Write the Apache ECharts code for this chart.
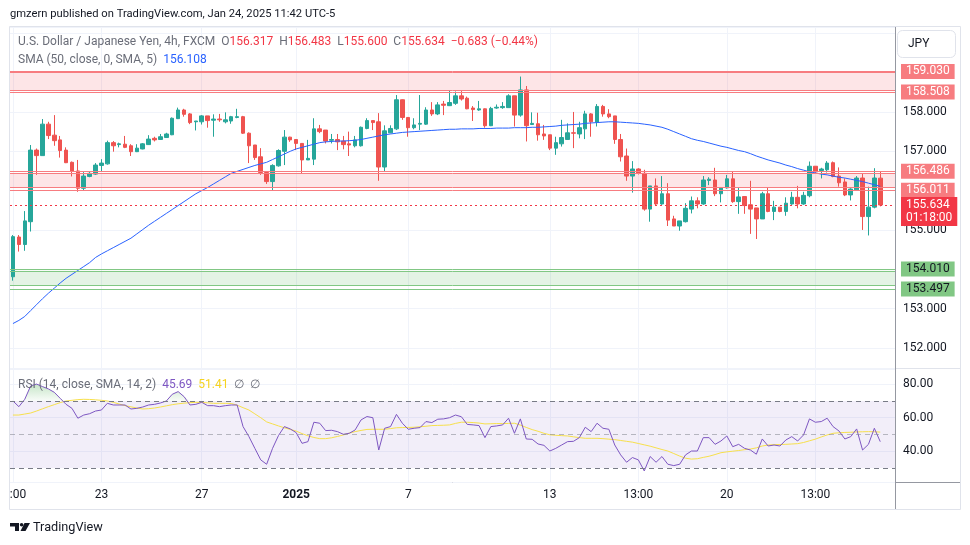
<!DOCTYPE html>
<html>
<head>
<meta charset="utf-8">
<script src="https://cdn.jsdelivr.net/npm/echarts/dist/echarts.min.js"></script>
<style>html,body{margin:0;padding:0;background:#fff;}#c{width:970px;height:545px;}</style>
</head>
<body>
<div id="c"></div>
<script>
// ---------------- data ----------------
const open = [153.81,154.82,154.63,155.21,157.03,156.89,157.69,157.41,157.29,157.03,
156.72,156.50,156.06,156.36,156.42,156.64,156.68,157.22,157.17,157.18,
157.14,156.99,157.06,157.17,157.33,157.30,157.35,157.42,157.83,158.05,
157.95,157.75,157.75,157.90,157.79,157.82,157.75,157.77,157.86,157.88,
157.46,157.16,156.86,156.46,156.23,156.63,157.00,157.36,157.30,157.20,
156.78,156.80,157.57,157.54,157.28,157.30,157.26,157.19,157.14,157.14,
157.58,157.78,157.75,156.60,157.47,157.57,158.31,157.86,157.60,157.69,
157.69,158.05,157.95,158.20,158.16,158.22,158.41,158.35,158.10,158.05,
158.08,157.65,158.10,158.11,158.11,158.41,157.92,158.56,157.68,157.70,
157.44,157.42,157.08,157.19,157.30,157.47,157.44,157.57,157.95,157.74,
158.14,157.95,157.90,157.30,156.88,156.37,156.55,156.44,155.53,156.12,
155.66,155.92,155.28,155.10,155.21,155.53,155.74,155.66,156.26,156.27,
155.92,156.07,156.30,155.72,155.85,155.64,155.56,155.28,155.92,155.47,
155.58,155.47,155.66,155.83,155.66,155.87,156.62,156.51,156.53,156.71,
156.37,156.22,155.89,156.02,156.32,155.34,155.58,156.317];
const high = [154.87,154.87,155.48,157.16,157.07,157.82,157.75,157.92,157.39,157.10,
156.74,156.78,156.47,156.48,156.70,156.80,157.27,157.26,157.22,157.39,
157.18,157.18,157.21,157.41,157.37,157.44,157.47,157.86,158.11,158.08,
157.97,157.77,157.92,157.90,157.94,157.95,157.99,157.90,158.08,157.90,
157.48,157.16,157.08,156.46,156.67,157.05,157.54,157.37,157.30,157.20,
157.29,157.84,157.67,157.54,157.44,157.44,157.39,157.50,157.39,157.63,
157.84,157.78,157.97,157.66,157.66,158.43,158.32,157.86,157.84,158.43,
158.12,158.25,158.25,158.28,158.54,158.52,158.53,158.39,158.15,158.28,
158.09,158.13,158.19,158.25,158.45,158.41,158.90,158.66,157.99,157.98,
157.67,157.42,157.37,157.80,157.71,158.00,157.75,158.03,157.97,158.20,
158.18,158.07,157.90,157.44,157.07,156.75,156.57,156.53,156.12,156.31,
156.37,156.19,155.36,155.23,155.68,155.85,155.83,156.37,156.34,156.58,
156.08,156.40,156.48,156.08,155.85,156.25,155.56,155.97,156.08,155.74,
155.58,155.83,155.97,156.12,155.97,156.74,156.62,156.58,156.75,156.74,
156.59,156.31,156.06,156.37,156.44,156.10,156.57,156.483];
const low = [153.71,154.45,154.47,154.96,156.40,156.89,157.31,157.14,156.84,156.70,
156.36,155.97,156.00,156.34,156.40,156.48,156.66,156.99,157.10,157.08,
156.88,156.98,157.05,157.16,157.25,157.29,157.34,157.41,157.82,157.88,
157.69,157.53,157.68,157.60,157.37,157.75,157.71,157.70,157.84,157.44,
156.70,156.78,156.40,156.17,156.00,156.61,156.65,157.24,157.03,156.44,
156.78,156.65,157.46,157.20,157.20,157.03,157.05,156.88,157.10,157.12,
157.56,157.54,156.25,156.48,157.46,157.54,157.80,157.37,157.56,157.54,
157.67,157.90,157.92,157.92,158.15,158.18,158.29,158.07,157.77,158.03,
157.60,157.64,158.08,158.08,158.11,157.63,157.88,157.25,157.67,157.27,
157.29,157.03,156.91,157.12,157.29,157.08,157.33,157.31,157.37,157.63,
157.88,157.84,157.19,156.74,156.25,155.95,156.41,155.49,155.21,155.61,
155.64,155.10,155.10,154.98,155.19,155.42,155.55,155.64,156.14,155.86,
155.70,156.05,155.69,155.41,155.41,154.90,154.77,155.28,155.45,155.25,
155.45,155.36,155.64,155.55,155.64,155.83,156.44,156.31,156.46,156.34,
156.10,155.86,155.75,156.02,155.00,154.86,155.55,155.600];
const close = [154.83,154.63,155.23,157.03,156.89,157.69,157.40,157.27,157.02,156.71,
156.50,156.06,156.37,156.44,156.65,156.70,157.22,157.14,157.19,157.10,
156.99,157.08,157.19,157.31,157.29,157.37,157.44,157.84,158.05,157.94,
157.73,157.77,157.90,157.78,157.82,157.80,157.80,157.88,157.88,157.46,
157.14,156.84,156.46,156.23,156.64,157.02,157.36,157.29,157.20,156.78,
156.82,157.57,157.50,157.26,157.30,157.24,157.17,157.16,157.29,157.61,
157.78,157.73,156.60,157.52,157.58,158.31,157.86,157.60,157.67,157.71,
158.05,157.95,158.18,158.17,158.24,158.41,158.33,158.08,158.06,158.08,
157.65,158.09,158.12,158.14,158.41,157.92,158.56,157.65,157.71,157.42,
157.39,157.08,157.22,157.35,157.47,157.46,157.60,157.95,157.75,158.14,
157.95,157.88,157.30,156.86,156.37,156.55,156.44,155.53,156.12,155.66,
155.92,155.25,155.10,155.23,155.55,155.74,155.66,156.27,156.29,155.92,
156.08,156.30,155.72,155.84,155.62,155.53,155.28,155.92,155.47,155.58,
155.47,155.68,155.83,155.66,155.88,156.62,156.48,156.55,156.70,156.36,
156.20,155.89,156.04,156.32,155.34,155.58,156.32,155.634];
const sma50 = [152.62,152.70,152.80,152.95,153.10,153.25,153.39,153.52,153.65,153.77,
153.87,153.97,154.07,154.17,154.30,154.39,154.47,154.55,154.63,154.71,
154.79,154.90,155.01,155.12,155.22,155.32,155.42,155.52,155.62,155.72,
155.82,155.92,156.00,156.08,156.17,156.26,156.35,156.44,156.49,156.54,
156.59,156.64,156.68,156.72,156.79,156.86,156.93,157.00,157.06,157.10,
157.14,157.18,157.22,157.24,157.25,157.26,157.26,157.27,157.28,157.30,
157.33,157.36,157.39,157.42,157.44,157.46,157.48,157.49,157.50,157.51,
157.52,157.53,157.54,157.55,157.56,157.56,157.57,157.57,157.57,157.58,
157.58,157.58,157.59,157.59,157.59,157.60,157.60,157.60,157.61,157.61,
157.62,157.63,157.64,157.66,157.67,157.68,157.69,157.71,157.72,157.73,
157.74,157.75,157.75,157.74,157.73,157.72,157.71,157.69,157.67,157.64,
157.61,157.56,157.50,157.44,157.38,157.32,157.28,157.25,157.21,157.17,
157.13,157.10,157.06,157.02,156.99,156.94,156.88,156.83,156.78,156.74,
156.70,156.65,156.61,156.56,156.52,156.48,156.45,156.42,156.40,156.37,
156.34,156.32,156.29,156.26,156.23,156.19,156.15,156.108];
const rsi = [70.0,66.6,71.0,79.0,80.1,78.6,77.2,75.2,71.6,68.0,
65.6,59.7,61.6,62.4,64.0,64.6,68.6,67.6,67.6,67.6,
65.2,65.6,66.4,67.6,68.0,68.8,70.0,74.0,75.6,72.6,
67.6,68.0,69.2,67.2,67.2,66.6,67.2,67.6,67.6,54.7,
48.7,41.7,34.8,32.2,41.7,49.3,54.7,53.3,51.1,44.7,
45.7,57.3,56.7,52.3,52.5,51.7,50.1,50.7,52.7,58.7,
60.7,60.0,40.7,53.7,54.7,62.0,56.7,53.1,53.7,54.1,
57.7,57.1,59.1,59.3,60.0,61.6,60.6,56.0,55.7,55.3,
48.1,54.7,55.1,55.7,59.7,50.7,59.3,47.3,47.1,44.3,
43.5,40.1,41.7,43.7,45.7,45.9,48.1,54.3,51.7,56.7,
53.7,53.1,43.7,37.8,33.4,36.2,34.8,28.2,36.8,33.4,
36.8,32.2,31.4,32.2,37.8,40.1,40.1,48.1,48.1,44.1,
46.1,49.1,42.7,44.1,41.7,40.7,38.2,47.3,43.1,43.7,
43.1,46.7,48.7,46.1,49.7,59.3,57.3,57.7,59.7,54.7,
52.1,47.3,48.7,53.3,40.7,44.1,53.7,45.69];
const rsiMa = [61.6,61.6,62.2,62.8,64.0,65.3,66.6,67.8,69.0,70.0,
70.4,70.8,71.0,70.9,70.7,70.4,70.0,69.2,68.2,67.2,
66.5,65.8,65.2,65.4,65.8,66.4,67.1,67.8,68.3,68.7,
69.0,69.2,69.1,68.9,68.6,68.6,68.6,68.5,67.5,66.0,
64.6,62.3,60.0,57.5,56.3,55.1,54.0,53.0,52.0,50.5,
49.2,48.2,47.5,47.5,48.0,48.8,49.7,50.8,51.7,52.4,
53.0,53.1,53.1,53.1,53.5,54.0,54.1,54.2,54.3,54.6,
54.9,55.3,55.4,55.5,55.7,56.6,57.3,57.3,57.1,56.8,
56.3,56.4,56.5,56.5,56.6,56.7,55.6,54.2,52.9,51.9,
50.7,49.8,49.5,49.3,49.1,48.6,48.1,47.7,47.7,47.7,
47.5,47.2,46.9,46.4,45.9,45.4,44.6,43.8,43.0,42.0,
41.0,40.1,38.6,37.1,35.8,35.3,35.5,36.3,37.0,38.0,
39.1,39.6,40.0,40.4,40.9,41.3,42.0,43.1,43.7,43.9,
44.0,44.1,44.3,44.5,45.2,46.2,47.2,48.5,49.7,50.7,
51.0,51.2,51.3,51.5,51.6,51.7,51.6,51.41];

const slotCount = 150;                       // 148 bars + right margin
const tickIdx  = [0, 15, 32, 48, 67, 91, 106, 121, 136];
const tickText = [':00', '23', '27', '2025', '7', '13', '13:00', '20', '13:00'];
const priceRange = [151.49, 160.16];
const priceLabelMax = 159.5;                 // labels above are hidden behind the currency button
const rsiRange = [21.6, 89.1];
const rsiLevels = [70, 50, 30];
const zoneHi    = [159.030, 156.486, 154.010];
const zoneLo    = [158.508, 156.011, 153.497];
const zoneInHi  = [159.015, 156.440, 153.960];
const zoneInLo  = [158.550, 156.090, 153.600];
const zoneKind  = ['red', 'red', 'green'];
const changeAbs = -0.683, changePct = -0.44;
const countdown = '01:18:00';

// ---------------- chart ----------------
const FONT = 'Roboto, "Noto Sans", sans-serif';
const UP = '#26a69a', DOWN = '#ef5350';
const n = close.length;
const last = n - 1;
const slots = Array.from({length: slotCount}, (_, i) => 'b' + i);
const isTick = (i) => tickIdx.indexOf(i) >= 0;
const pxPerPrice = 341 / (priceRange[1] - priceRange[0]);

const zoneStyle = {
  red:   {line: '#f77c80', fill: 'rgba(242,54,69,0.13)', box: '#f77c80', text: '#ffffff'},
  green: {line: '#81c784', fill: 'rgba(76,175,80,0.15)', box: '#81c784', text: '#131722'}
};
const boxLabel = (txt, bg, fg) => ({
  show: true, position: 'end', distance: 6, formatter: txt,
  backgroundColor: bg, color: fg, fontFamily: FONT, fontSize: 12,
  lineHeight: 12, padding: [2, 5, 1, 5]
});
const markLines = [];
const markAreas = [];
zoneHi.forEach((hi, k) => {
  const s = zoneStyle[zoneKind[k]];
  const ls = {color: s.line, width: 1, type: 'solid'};
  markLines.push({yAxis: hi, lineStyle: ls, label: boxLabel(hi.toFixed(3), s.box, s.text)});
  markLines.push({yAxis: zoneInHi[k], lineStyle: ls, label: {show: false}});
  markLines.push({yAxis: zoneInLo[k], lineStyle: ls, label: {show: false}});
  markLines.push({yAxis: zoneLo[k], lineStyle: ls, label: boxLabel(zoneLo[k].toFixed(3), s.box, s.text)});
  markAreas.push([{yAxis: zoneInHi[k], itemStyle: {color: s.fill}}, {yAxis: zoneInLo[k]}]);
});
// current price line + its label box (box sits slightly below the line as in TradingView)
markLines.push({yAxis: close[last], lineStyle: {color: '#f23645', width: 1, type: [2, 3]}, label: {show: false}});
markLines.push({yAxis: close[last] - 6.5 / pxPerPrice, lineStyle: {color: 'rgba(0,0,0,0)', width: 1},
  label: Object.assign(boxLabel(close[last].toFixed(3) + '\n' + countdown, '#f23645', '#ffffff'), {lineHeight: 13})});

const tickAxis = (grid, len, showLabels) => ({
  type: 'category', gridIndex: grid, data: slots, boundaryGap: true,
  axisLine: {show: false},
  axisTick: {show: true, inside: true, length: len, alignWithLabel: true,
    interval: (i) => isTick(i), lineStyle: {color: '#f0f3fa', width: 1}},
  splitLine: {show: false},
  axisLabel: showLabels ? {
    show: true, interval: (i) => isTick(i), margin: 7, color: '#131722', fontSize: 12, fontFamily: FONT,
    formatter: (v, i) => {
      const t = tickText[tickIdx.indexOf(i)];
      if (t === '2025') return '{b|2025}';
      if (i === 0) return '{p|' + t + '}';
      return t;
    },
    rich: {b: {fontWeight: 'bold', fontSize: 12, color: '#131722'}, p: {padding: [0, 0, 0, 10], fontSize: 12, color: '#131722'}}
  } : {show: false}
});

const gray = '#6a6d78';
const option = {
  animation: false,
  backgroundColor: '#ffffff',
  textStyle: {fontFamily: FONT},
  grid: [
    {left: 10, top: 27, width: 885, height: 341},
    {left: 10, top: 369, width: 885, height: 113}
  ],
  xAxis: [tickAxis(0, 341, false), tickAxis(1, 113, true)],
  yAxis: [
    {type: 'value', gridIndex: 0, position: 'right', min: priceRange[0], max: priceRange[1], splitNumber: 8,
      axisLine: {show: false}, axisTick: {show: false},
      axisLabel: {color: '#131722', fontSize: 12, margin: 8, showMinLabel: false, showMaxLabel: false,
        formatter: (v) => v > priceLabelMax ? '' : v.toFixed(3)},
      splitLine: {lineStyle: {color: '#f0f3fa'}}},
    {type: 'value', gridIndex: 1, position: 'right', min: rsiRange[0], max: rsiRange[1], splitNumber: 3,
      axisLine: {show: false}, axisTick: {show: false},
      axisLabel: {color: '#131722', fontSize: 12, margin: 8, showMinLabel: false, showMaxLabel: false,
        formatter: (v) => v.toFixed(2)},
      splitLine: {lineStyle: {color: '#f0f3fa'}}}
  ],
  series: [
    {
      type: 'candlestick', name: 'USDJPY', xAxisIndex: 0, yAxisIndex: 0,
      data: open.map((o, i) => [o, close[i], low[i], high[i]]),
      barWidth: 4,
      itemStyle: {color: UP, color0: DOWN, borderColor: UP, borderColor0: DOWN, borderWidth: 1},
      markArea: {silent: true, data: markAreas},
      markLine: {silent: true, symbol: ['none', 'none'], animation: false, data: markLines}
    },
    {
      type: 'line', name: 'SMA', xAxisIndex: 0, yAxisIndex: 0, data: sma50,
      showSymbol: false, symbol: 'none', smooth: false,
      lineStyle: {color: '#2962ff', width: 1}, z: 3
    },
    {
      type: 'line', name: 'base', xAxisIndex: 1, yAxisIndex: 1, stack: 'ob',
      data: rsi.map(() => rsiLevels[0]), symbol: 'none', lineStyle: {opacity: 0},
      markArea: {silent: true, data: [[{yAxis: rsiLevels[2], itemStyle: {color: 'rgba(126,87,194,0.1)'}}, {yAxis: rsiLevels[0]}]]},
      markLine: {silent: true, symbol: ['none', 'none'], label: {show: false}, data: [
        {yAxis: rsiLevels[0], lineStyle: {color: '#787b86', type: [5, 4], width: 1}},
        {yAxis: rsiLevels[1], lineStyle: {color: 'rgba(120,123,134,0.5)', type: [5, 4], width: 1}},
        {yAxis: rsiLevels[2], lineStyle: {color: '#787b86', type: [5, 4], width: 1}}
      ]}
    },
    {
      type: 'line', name: 'overbought', xAxisIndex: 1, yAxisIndex: 1, stack: 'ob',
      data: rsi.map(v => Math.max(v - rsiLevels[0], 0)), symbol: 'none', lineStyle: {opacity: 0},
      areaStyle: {color: new echarts.graphic.LinearGradient(0, 0, 0, 1, [
        {offset: 0, color: 'rgba(76,175,80,0.45)'}, {offset: 1, color: 'rgba(76,175,80,0.05)'}])}
    },
    {
      type: 'line', name: 'RSI MA', xAxisIndex: 1, yAxisIndex: 1, data: rsiMa,
      symbol: 'none', lineStyle: {color: '#f7e04b', width: 1}
    },
    {
      type: 'line', name: 'RSI', xAxisIndex: 1, yAxisIndex: 1, data: rsi,
      symbol: 'none', lineStyle: {color: '#7e57c2', width: 1}
    }
  ],
  graphic: [
    {type: 'text', x: 10, y: 14, silent: true, style: {text: 'gmzern published on TradingView.com, Jan 24, 2025 11:42 UTC-5',
      fill: '#131722', fontSize: 11.2, fontFamily: FONT, verticalAlign: 'middle'}},
    {type: 'rect', silent: true, shape: {x: 9.5, y: 26.5, width: 951, height: 483}, style: {fill: 'none', stroke: '#e0e3eb', lineWidth: 1}},
    {type: 'line', silent: true, shape: {x1: 10, y1: 368.5, x2: 960, y2: 368.5}, style: {stroke: '#e0e3eb', lineWidth: 1}},
    {type: 'line', silent: true, shape: {x1: 10, y1: 482.5, x2: 960, y2: 482.5}, style: {stroke: '#9598a1', lineWidth: 1}},
    {type: 'line', silent: true, shape: {x1: 895.5, y1: 27, x2: 895.5, y2: 509}, style: {stroke: '#9598a1', lineWidth: 1}},
    {type: 'rect', silent: true, z: 50, shape: {x: 897.5, y: 30.5, width: 58, height: 27, r: 5}, style: {fill: '#ffffff', stroke: '#e0e3eb', lineWidth: 1}},
    {type: 'text', silent: true, z: 51, x: 908, y: 44, style: {text: 'JPY', fill: '#131722', fontSize: 12, fontFamily: FONT, verticalAlign: 'middle'}},
    {type: 'text', silent: true, z: 51, x: 18, y: 42, style: {
      text: '{g|U.S. Dollar / Japanese Yen, 4h, FXCM}  {g|O}{r|' + open[last].toFixed(3) + '}  {g|H}{r|' + high[last].toFixed(3) +
        '}  {g|L}{r|' + low[last].toFixed(3) + '}  {g|C}{r|' + close[last].toFixed(3) + '}  {r|' +
        changeAbs.toFixed(3).replace('-', '\u2212') + ' (' + changePct.toFixed(2).replace('-', '\u2212') + '%)}',
      fontSize: 12, fontFamily: FONT, verticalAlign: 'middle', fill: gray,
      rich: {g: {fill: gray, fontSize: 12, fontFamily: FONT}, r: {fill: '#f23645', fontSize: 12, fontFamily: FONT}}}},
    {type: 'text', silent: true, z: 51, x: 18, y: 60, style: {
      text: '{g|SMA (50, close, 0, SMA, 5)}  {b|' + sma50[last].toFixed(3) + '}',
      fontSize: 12, fontFamily: FONT, verticalAlign: 'middle', fill: gray,
      rich: {g: {fill: gray, fontSize: 12, fontFamily: FONT}, b: {fill: '#2962ff', fontSize: 12, fontFamily: FONT}}}},
    {type: 'text', silent: true, z: 51, x: 18, y: 385, style: {
      text: '{g|RSI (14, close, SMA, 14, 2)}  {p|' + rsi[last].toFixed(2) + '}  {y|' + rsiMa[last].toFixed(2) + '}  {g|\u2205  \u2205}',
      fontSize: 12, fontFamily: FONT, verticalAlign: 'middle', fill: gray,
      rich: {g: {fill: gray, fontSize: 12, fontFamily: FONT}, p: {fill: '#7e57c2', fontSize: 12, fontFamily: FONT},
        y: {fill: '#f5d320', fontSize: 12, fontFamily: FONT}}}},
    {type: 'polygon', silent: true, shape: {points: [[10, 523], [19, 523], [19, 531], [15, 531], [15, 526.5], [10, 526.5]]}, style: {fill: '#131722'}},
    {type: 'circle', silent: true, shape: {cx: 21.6, cy: 524.8, r: 1.8}, style: {fill: '#131722'}},
    {type: 'polygon', silent: true, shape: {points: [[24.5, 523], [30, 523], [25.5, 531], [20.5, 531]]}, style: {fill: '#131722'}},
    {type: 'text', silent: true, x: 33, y: 528, style: {text: 'TradingView', fill: '#131722', fontSize: 12.7, fontFamily: FONT, verticalAlign: 'middle'}}
  ]
};
const chart = echarts.init(document.getElementById('c'));
chart.setOption(option);
</script>
</body>
</html>
